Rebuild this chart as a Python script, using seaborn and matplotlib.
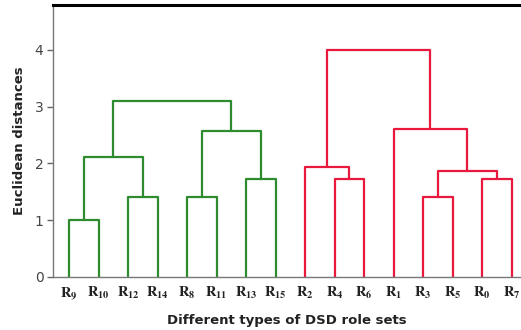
import matplotlib
matplotlib.use("Agg")
import matplotlib.pyplot as plt
import seaborn as sns
import pandas as pd

# Leaf order along the x axis
leaves = ["R9", "R10", "R12", "R14", "R8", "R11", "R13", "R15",
          "R2", "R4", "R6", "R1", "R3", "R5", "R0", "R7"]

# Merge steps: (left child, right child, distance); ints refer to earlier merges
merge_left = ["R9", "R12", "R8", "R13", 0, 2, 4,
              "R4", "R2", "R3", "R0", 9, "R1", 8]
merge_right = ["R10", "R14", "R11", "R15", 1, 3, 5,
               "R6", 7, "R5", "R7", 10, 11, 12]
merge_height = [1.00, 1.41, 1.41, 1.73, 2.12, 2.57, 3.10,
                1.73, 1.94, 1.41, 1.73, 1.87, 2.60, 4.00]
merge_group = ["A"] * 7 + ["B"] * 7

palette = {"A": "#2e8b2e", "B": "#e8193c"}

# Build U-shaped link segments
pos = {name: i for i, name in enumerate(leaves)}
node_x, node_y = {}, {}


def child_xy(c):
    if isinstance(c, int):
        return node_x[c], node_y[c]
    return pos[c], 0.0


rows = []
for k, (l, r, h, g) in enumerate(zip(merge_left, merge_right, merge_height, merge_group)):
    lx, ly = child_xy(l)
    rx, ry = child_xy(r)
    for j, (xx, yy) in enumerate([(lx, ly), (lx, h), (rx, h), (rx, ry)]):
        rows.append({"link": k, "order": j, "x": xx, "y": yy, "group": g})
    node_x[k] = (lx + rx) / 2
    node_y[k] = h

links = pd.DataFrame(rows)

sns.set_theme(style="white")
plt.rcParams["mathtext.fontset"] = "stix"

fig = plt.figure(figsize=(5.21, 3.30), dpi=100)
ax = fig.add_axes([0.102, 0.161, 0.898, 0.824])

sns.lineplot(data=links, x="x", y="y", hue="group", units="link",
             estimator=None, sort=False, palette=palette, linewidth=1.6,
             legend=False, ax=ax)

ax.set_xlim(-0.54, 15.32)
ax.set_ylim(0, 4.79)
ax.set_yticks([0, 1, 2, 3, 4])
ax.set_yticklabels(["0", "1", "2", "3", "4"], fontsize=10, color="#444444")
ax.set_xticks(range(len(leaves)))
ax.set_xticklabels([r"$\mathbf{R_{%s}}$" % n[1:] for n in leaves],
                   fontsize=10.5, color="#222222")
ax.tick_params(axis="y", left=True, length=4, width=1, color="#666666", pad=3)
ax.tick_params(axis="x", bottom=False, pad=0)

for side in ["left", "bottom"]:
    ax.spines[side].set_color("#777777")
    ax.spines[side].set_linewidth(1.0)
ax.spines["top"].set_color("black")
ax.spines["top"].set_linewidth(2.2)
ax.spines["right"].set_visible(False)

ax.set_ylabel("Euclidean distances", fontsize=9.5, fontweight="bold",
              color="#222222", labelpad=6)
ax.set_xlabel("Different types of DSD role sets", fontsize=9.5,
              fontweight="bold", color="#222222", labelpad=9)

fig.savefig("out.png", dpi=100)
